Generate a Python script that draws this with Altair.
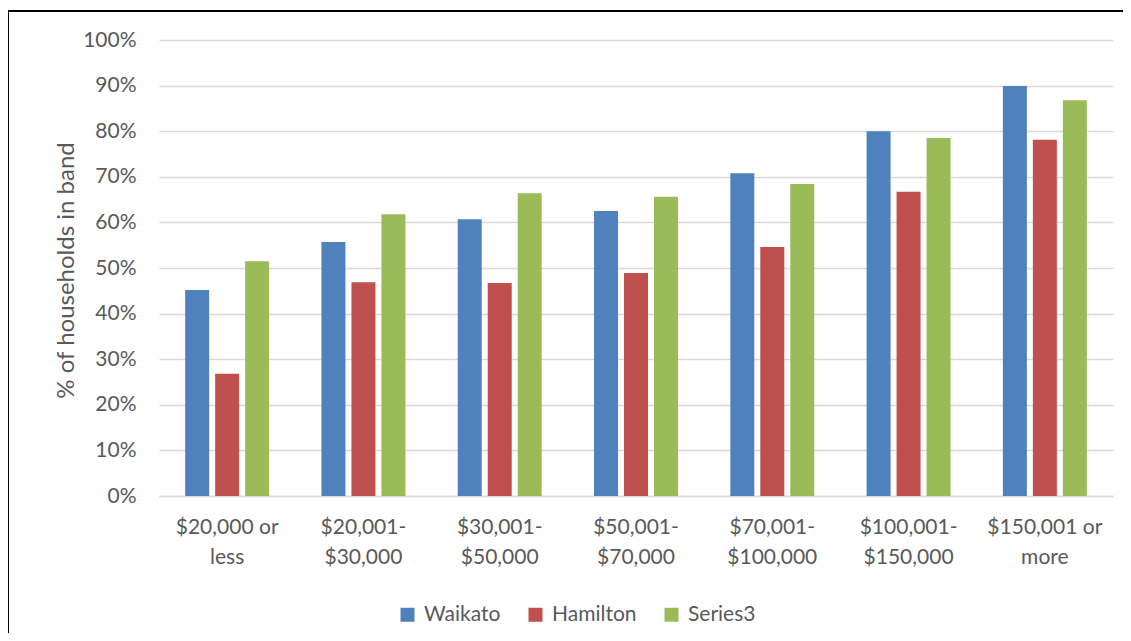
import altair as alt
import pandas as pd

categories = ["$20,000 or less", "$20,001-$30,000", "$30,001-$50,000", "$50,001-$70,000",
              "$70,001-$100,000", "$100,001-$150,000", "$150,001 or more"]
series = ["Waikato", "Hamilton", "Series3"]
waikato = [45.2, 55.7, 60.7, 62.5, 70.8, 80.0, 89.9]
hamilton = [26.8, 46.9, 46.7, 48.9, 54.6, 66.7, 78.1]
series3 = [51.5, 61.8, 66.4, 65.6, 68.4, 78.5, 86.8]
colors = ["#4F81BD", "#C0504D", "#9BBB59"]

rows = []
for s, vals in zip(series, [waikato, hamilton, series3]):
    for c, v in zip(categories, vals):
        rows.append({"band": c, "series": s, "value": v / 100})
df = pd.DataFrame(rows)

FONT = "Lato"
GRAY = "#595959"

bars = alt.Chart(df).mark_bar().encode(
    x=alt.X("band:N", sort=categories, title=None,
            scale=alt.Scale(paddingInner=0.384, paddingOuter=0.192),
            axis=alt.Axis(labelAngle=0, labelFontSize=21, labelColor=GRAY, labelFont=FONT,
                          labelLineHeight=30, labelPadding=20, ticks=False,
                          domainColor="#D9D9D9", domainWidth=1.5,
                          labelExpr="split(replace(replace(datum.label, 'or ', 'or|'), '-', '-|'), '|')")),
    xOffset=alt.XOffset("series:N", sort=series,
                        scale=alt.Scale(paddingInner=0.2, paddingOuter=0)),
    y=alt.Y("value:Q", title="% of households in band",
            scale=alt.Scale(domain=[0, 1]),
            axis=alt.Axis(format=".0%", values=[i / 10 for i in range(11)],
                          labelFontSize=21, labelColor=GRAY, labelFont=FONT, labelPadding=23,
                          ticks=False, domain=False, gridColor="#D9D9D9", gridWidth=1.5,
                          titleFontSize=24, titleFont=FONT, titleColor=GRAY, titleFontWeight="normal",
                          titleAngle=-90, titleAlign="center", titleBaseline="middle",
                          titleX=-93, titleY=230)),
    color=alt.Color("series:N", sort=series, title=None,
                    scale=alt.Scale(domain=series, range=colors),
                    legend=alt.Legend(orient="none", legendX=238, legendY=564, direction="horizontal",
                                      symbolType="square", symbolSize=196, symbolStrokeWidth=0,
                                      labelFontSize=21, labelFont=FONT, labelColor=GRAY,
                                      columnPadding=24, labelOffset=6)),
)

one = pd.DataFrame({"a": [0]})
top_border = alt.Chart(one).mark_rule(color="black", strokeWidth=2).encode(
    x=alt.value(-152), x2=alt.value(1000), y=alt.value(-29))
left_border = alt.Chart(one).mark_rule(color="black", strokeWidth=2).encode(
    x=alt.value(-151), y=alt.value(-29), y2=alt.value(700))

chart = alt.layer(bars, top_border, left_border).properties(
    width=954, height=456,
    autosize=alt.AutoSizeParams(type="none"),
    padding={"left": 151, "top": 32, "right": 10, "bottom": 137},
    background="white",
).configure_view(stroke=None)

chart.save("out.html", embed_options={"renderer": "svg", "actions": False})
